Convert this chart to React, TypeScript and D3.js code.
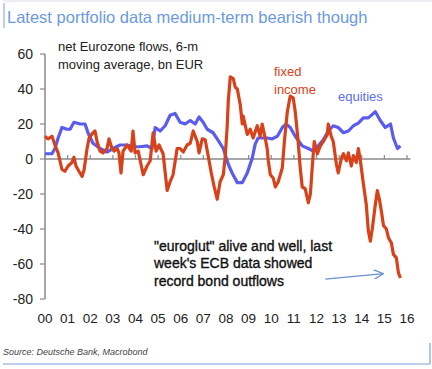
import React from "react";
import * as d3 from "d3";

// years since 2000 (decimal) and bn EUR
const fixedIncomeYears = [
  0, 0.13, 0.31, 0.44, 0.58, 0.75, 0.88, 1.02, 1.19, 1.28, 1.37, 1.5, 1.64, 1.73, 1.86, 1.95,
  2.12, 2.21, 2.3, 2.43, 2.57, 2.74, 2.83, 2.96, 3.05, 3.19, 3.27, 3.36, 3.45, 3.63, 3.81, 3.89,
  3.98, 4.12, 4.34, 4.51, 4.65, 4.78, 4.91, 5.04, 5.22, 5.4, 5.53, 5.66, 5.84, 5.97, 6.11, 6.28,
  6.42, 6.55, 6.73, 6.81, 6.95, 7.08, 7.21, 7.35, 7.48, 7.61, 7.74, 7.88, 7.96, 8.05, 8.1, 8.19,
  8.32, 8.41, 8.5, 8.63, 8.72, 8.76, 8.94, 9.07, 9.2, 9.38, 9.51, 9.6, 9.73, 9.82, 9.87, 9.96,
  10.09, 10.18, 10.31, 10.49, 10.58, 10.71, 10.84, 10.97, 11.06, 11.19, 11.28, 11.37, 11.5, 11.64,
  11.73, 11.81, 11.9, 12.04, 12.17, 12.3, 12.48, 12.52, 12.65, 12.74, 12.88, 12.96, 13.1, 13.19,
  13.32, 13.41, 13.54, 13.63, 13.76, 13.85, 13.94, 14.07, 14.2, 14.29, 14.38, 14.47, 14.6, 14.69,
  14.78, 14.87, 14.96, 15.09, 15.18, 15.31, 15.4, 15.53, 15.62, 15.71,
];
const fixedIncomeValues = [
  13, 11.5, 13, 8, 3.5, -6, -7, -4, -2, 1, -4, -7, -10, -6, 6, 12,
  15, 16, 10, 4.5, 3.5, 6, 11.5, 6, 4.5, 6, 3.5, -8, 4.5, 8, 4.5, 16,
  3.5, 4.5, -9, -4, -1, 15, 4.5, 8, 3, -18, -13, -9, 6, 6, 4, 8,
  9, 16, 10, 3.5, 11.5, 11, 2, -8, -16, -23, -13, -9, 0.5, 18, 33, 47,
  46, 41, 40, 31, 20, 24.5, 14, 17, 12, 19, 13, 20, 12, 6, -1, -9,
  -11, -16, -13, -5, 10, 27, 36, 35, 27, 10, -5, -16, -17, -25,
  -20, -5, 10, 3, 7.5, 10, 14, 20, 13, 10, -3, -8, 0.5, 3,
  -1, 3.5, -4, 2, -2, 6, -1, -14, -26, -41, -47, -39.5, -26, -18,
  -23, -30, -38, -40, -45, -48, -54.5, -56.5, -65, -68,
];

const equitiesYears = [
  0, 0.31, 0.44, 0.58, 0.75, 0.97, 1.11, 1.28, 1.55, 1.77, 1.9, 2.12, 2.43, 2.74, 3.01, 3.32,
  3.63, 3.89, 4.2, 4.51, 4.73, 4.87, 5.09, 5.31, 5.53, 5.75, 5.97, 6.19, 6.42, 6.64, 6.81, 6.99,
  7.17, 7.43, 7.61, 7.88, 8.1, 8.27, 8.5, 8.72, 8.94, 9.16, 9.29, 9.42, 9.65, 9.82, 10.04, 10.27,
  10.49, 10.66, 10.84, 11.06, 11.37, 11.64, 11.86, 12.08, 12.3, 12.52, 12.74, 12.96, 13.19, 13.41,
  13.63, 13.85, 14.07, 14.29, 14.38, 14.6, 14.82, 15.04, 15.27, 15.4, 15.58, 15.71,
];
const equitiesValues = [
  3, 3, 6, 12, 18, 17, 17, 21, 20, 20, 15, 9, 6, 4, 6, 8,
  8, 7, 7, 7.5, 6, 18, 16, 19, 25, 26, 21, 20, 22, 20, 24, 21,
  17, 15, 11.5, 6, -3, -8, -13.5, -13.5, -8, 0.5, 8.5, 12, 12, 12, 11.5, 13,
  18, 20, 18, 13, 7.5, 6, 4.5, 7.5, 11, 16, 19, 18, 15, 16,
  19, 20.5, 23.5, 23.5, 24.5, 27, 22, 18, 20, 12, 6, 7.5,
];

const yTicks = [60, 40, 20, 0, -20, -40, -60, -80];
const xTickLabels = ["00", "01", "02", "03", "04", "05", "06", "07", "08", "09", "10", "11", "12", "13", "14", "15", "16"];

const W = 432;
const H = 369;
const FONT = "'Liberation Sans', Arial, Helvetica, sans-serif";
const RED = "#d8421a";
const BLUE = "#5a5cf0";

export default function App() {
  const x = d3.scaleLinear().domain([0, 16]).range([45, 407]);
  const y = d3.scaleLinear().domain([-80, 60]).range([299, 54]);

  const line = d3
    .line<[number, number]>()
    .x((d) => x(d[0]))
    .y((d) => y(d[1]));

  const fixedIncome = fixedIncomeYears.map((t, i) => [t, fixedIncomeValues[i]] as [number, number]);
  const equities = equitiesYears.map((t, i) => [t, equitiesValues[i]] as [number, number]);

  // arrow pointing at the last fixed income reading
  const arrowFrom = [12.39, -68.6];
  const arrowTo = [14.96, -65.5];

  return (
    <svg
      width={W}
      height={H}
      style={{ position: "absolute", left: 0, top: 0, background: "#fff" }}
      fontFamily={FONT}
    >
      <defs>
        <marker id="arr" viewBox="0 0 10 10" refX="10" refY="5" markerWidth="12" markerHeight="10" orient="auto" markerUnits="userSpaceOnUse">
          <path d="M0,0 L10,5 L0,10" fill="none" stroke="#6b8fd0" strokeWidth="1.2" />
        </marker>
      </defs>

      {/* frame */}
      <line x1={3} x2={W} y1={1} y2={1} stroke="#d8dde6" strokeWidth={1} />
      <line x1={4} x2={4} y1={3} y2={28} stroke="#8fb0e0" strokeWidth={1.2} />
      <text x={7} y={23} fontSize={16.5} fill="#6b9ae0">
        Latest portfolio data medium-term bearish though
      </text>

      {/* y axis */}
      <line x1={x(0)} x2={x(0)} y1={y(60)} y2={y(-80)} stroke="#8a8a8a" strokeWidth={1.5} />
      {yTicks.map((t) => (
        <g key={t}>
          <line x1={x(0) - 5} x2={x(0)} y1={y(t)} y2={y(t)} stroke="#8a8a8a" strokeWidth={1.2} />
          <text x={x(0) - 12} y={y(t)} dy="0.35em" textAnchor="end" fontSize={14} fill="#222">
            {t}
          </text>
        </g>
      ))}

      {/* x axis on zero line */}
      <line x1={x(0)} x2={x(16.15)} y1={y(0)} y2={y(0)} stroke="#8a8a8a" strokeWidth={1.5} />
      {xTickLabels.map((lab, i) => (
        <g key={lab}>
          <line x1={x(i)} x2={x(i)} y1={y(0) - 4} y2={y(0)} stroke="#8a8a8a" strokeWidth={1.2} />
          <text x={x(i)} y={318} dy="0.35em" textAnchor="middle" fontSize={13.5} fill="#222">
            {lab}
          </text>
        </g>
      ))}

      {/* series */}
      <path d={line(equities) || ""} fill="none" stroke={BLUE} strokeWidth={3.2} strokeLinejoin="round" />
      <path d={line(fixedIncome) || ""} fill="none" stroke={RED} strokeWidth={3.2} strokeLinejoin="round" />

      {/* labels */}
      <text x={58} fontSize={13} fill="#222">
        <tspan x={58} y={51}>net Eurozone flows, 6-m</tspan>
        <tspan x={58} y={69}>moving average, bn EUR</tspan>
      </text>
      <text fontSize={13} fill={RED}>
        <tspan x={274} y={76}>fixed</tspan>
        <tspan x={274} y={94}>income</tspan>
      </text>
      <text x={338} y={101} fontSize={13} fill="#5b6ef0">
        equities
      </text>

      <text fontSize={14} fill="#111" stroke="#111" strokeWidth={0.35}>
        <tspan x={154} y={251}>"euroglut" alive and well, last</tspan>
        <tspan x={154} y={268}>week's ECB data showed</tspan>
        <tspan x={154} y={286}>record bond outflows</tspan>
      </text>
      <line
        x1={x(arrowFrom[0])}
        y1={y(arrowFrom[1])}
        x2={x(arrowTo[0])}
        y2={y(arrowTo[1])}
        stroke="#6b8fd0"
        strokeWidth={1.2}
        markerEnd="url(#arr)"
      />

      {/* source + bottom frame */}
      <text x={3} y={355} fontSize={9} fontStyle="italic" fill="#444">
        Source: Deutsche Bank, Macrobond
      </text>
      <line x1={3} x2={430} y1={364} y2={364} stroke="#7d9fd6" strokeWidth={1.2} />
      <line x1={430} x2={430} y1={343} y2={364} stroke="#7d9fd6" strokeWidth={1.2} />
    </svg>
  );
}
